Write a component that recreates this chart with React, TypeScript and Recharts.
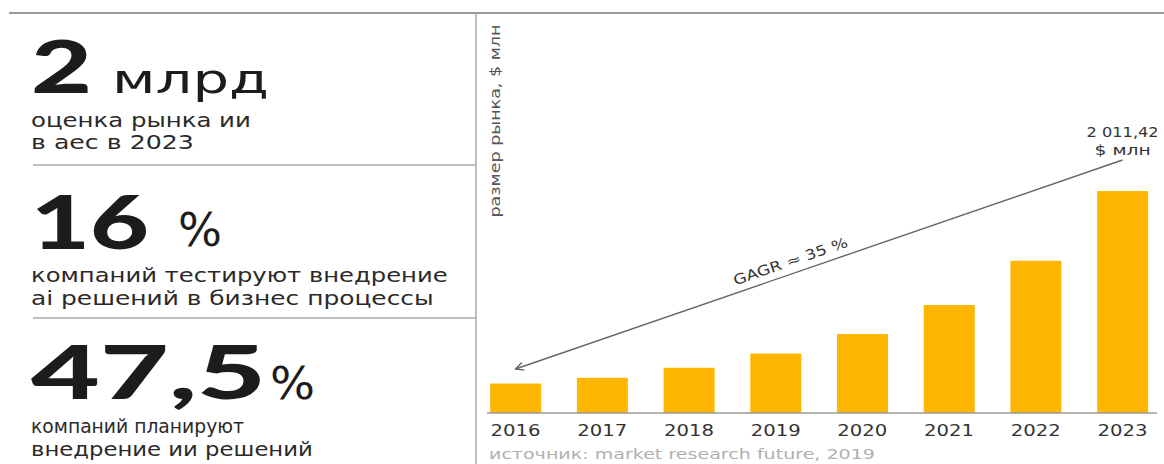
import { useLayoutEffect, useRef, useState } from 'react';
import { BarChart, Bar, XAxis, YAxis, ReferenceLine } from 'recharts';

const years = [2016, 2017, 2018, 2019, 2020, 2021, 2022, 2023];
const marketSize = [267, 319, 410, 539, 716, 979, 1380, 2011.42]; // $ млн
const lastLabel = ['2 011,42', '$ млн'];
const cagrText = 'GAGR ≈ 35 %';
const trendFrom = { year: 2016, value: 399 };
const trendTo = { year: 2023, value: 2293 };

const yLabel = 'размер рынка, $ млн';
const sourceText = 'источник: market research future, 2019';

const data = years.map((year, i) => ({ year, value: marketSize[i] }));

const FONT = '"DejaVu Sans", sans-serif';
const BIG_FONT = 'Lato, "DejaVu Sans", sans-serif';
const BAR = '#FEB600';
const INK = '#1c1c1c';

// text stretched horizontally to a given width (the original uses an extended typeface)
function FitText({ x, y, width, children, ...rest }: any) {
  const ref = useRef<SVGTextElement>(null);
  const [sx, setSx] = useState(1);
  useLayoutEffect(() => {
    if (ref.current) {
      const w = ref.current.getComputedTextLength();
      if (w > 0) setSx(width / w);
    }
  }, [width]);
  return (
    <text ref={ref} transform={`translate(${x},${y}) scale(${sx},1)`} {...rest}>
      {children}
    </text>
  );
}

function YearTick(props: any) {
  const { x, y, payload } = props;
  return (
    <text x={x} y={y + 23} textAnchor="middle" fontSize={16} fill="#333" fontFamily={FONT} textLength={50} lengthAdjust="spacingAndGlyphs">
      {String(payload.value)}
    </text>
  );
}

function BarShape(props: any) {
  const { x, y, width, height, index } = props;
  const isLast = index === data.length - 1;
  const cx = x + width / 2;
  return (
    <g>
      <rect x={x} y={y} width={width} height={height} fill={BAR} />
      {isLast && (
        <>
          <text x={cx} y={y - 54} textAnchor="middle" fontSize={14} fill="#333" fontFamily={FONT} textLength={72} lengthAdjust="spacingAndGlyphs">
            {lastLabel[0]}
          </text>
          <text x={cx} y={y - 36} textAnchor="middle" fontSize={14} fill="#333" fontFamily={FONT} textLength={56} lengthAdjust="spacingAndGlyphs">
            {lastLabel[1]}
          </text>
        </>
      )}
    </g>
  );
}

function TrendArrow(props: any) {
  const { x1, y1, x2, y2 } = props;
  if ([x1, y1, x2, y2].some((v) => typeof v !== 'number' || isNaN(v))) return <g />;
  const dx = x2 - x1;
  const dy = y2 - y1;
  const len = Math.sqrt(dx * dx + dy * dy);
  const ux = dx / len;
  const uy = dy / len;
  const ang = (Math.atan2(dy, dx) * 180) / Math.PI;
  const head = 9;
  const a = (26 * Math.PI) / 180;
  const hx1 = x1 + head * (ux * Math.cos(a) - uy * Math.sin(a));
  const hy1 = y1 + head * (ux * Math.sin(a) + uy * Math.cos(a));
  const hx2 = x1 + head * (ux * Math.cos(-a) - uy * Math.sin(-a));
  const hy2 = y1 + head * (ux * Math.sin(-a) + uy * Math.cos(-a));
  const mx = (x1 + x2) / 2;
  const my = (y1 + y2) / 2;
  return (
    <g>
      <line x1={x1} y1={y1} x2={x2} y2={y2} stroke="#666" strokeWidth={1.4} />
      <polyline points={`${hx1},${hy1} ${x1},${y1} ${hx2},${hy2}`} fill="none" stroke="#666" strokeWidth={1.4} />
      <g transform={`translate(${mx},${my}) rotate(${ang})`}>
        <text x={-26} y={-7.5} textAnchor="middle" fontSize={14} fill="#333" fontFamily={FONT} textLength={120} lengthAdjust="spacingAndGlyphs">
          {cagrText}
        </text>
      </g>
    </g>
  );
}

export default function App() {
  const caption = { fontSize: 19, fill: '#2a2a2a', fontFamily: FONT };
  const big = { fontSize: 74, fontWeight: 900, fill: INK, fontFamily: BIG_FONT };
  const unit = { fill: INK, fontFamily: FONT };
  return (
    <div style={{ position: 'absolute', left: 0, top: 0, width: 1164, height: 464, overflow: 'hidden', background: '#fff' }}>
      <BarChart width={1164} height={464} data={data} margin={{ top: 82, right: 7, bottom: 0, left: 487 }}>
        <XAxis
          dataKey="year"
          type="number"
          domain={[2015.671, 2023.398]}
          allowDataOverflow
          ticks={years}
          interval={0}
          height={51}
          tickSize={0}
          tickMargin={0}
          tickLine={false}
          axisLine={{ stroke: '#9a9a9a', strokeWidth: 1.5 }}
          tick={<YearTick />}
        />
        <YAxis hide domain={[0, 3000]} />
        <Bar dataKey="value" barSize={51} isAnimationActive={false} shape={<BarShape />} />
        <ReferenceLine
          segment={[
            { x: trendFrom.year, y: trendFrom.value },
            { x: trendTo.year, y: trendTo.value },
          ]}
          ifOverflow="visible"
          shape={(p: any) => <TrendArrow {...p} />}
        />
      </BarChart>

      <svg width={1164} height={464} style={{ position: 'absolute', left: 0, top: 0, pointerEvents: 'none' }}>
        <line x1={9} y1={13} x2={1164} y2={13} stroke="#9a9a9a" strokeWidth={2} />
        <line x1={476} y1={13} x2={476} y2={464} stroke="#a8a8a8" strokeWidth={1.5} />
        <line x1={33} y1={165} x2={476} y2={165} stroke="#a8a8a8" strokeWidth={1.5} />
        <line x1={33} y1={318} x2={476} y2={318} stroke="#a8a8a8" strokeWidth={1.5} />

        <FitText x={31} y={93} width={61} {...big} fontSize={73}>2</FitText>
        <FitText x={112} y={93} width={157} {...unit} fontSize={40}>млрд</FitText>
        <FitText x={31} y={127} width={220} {...caption}>оценка рынка ии</FitText>
        <FitText x={31} y={149} width={163} {...caption}>в аес в 2023</FitText>

        <FitText x={31} y={249} width={118} {...big}>16</FitText>
        <FitText x={178} y={246} width={44} {...unit} fontSize={46}>%</FitText>
        <FitText x={31} y={282} width={417} {...caption}>компаний тестируют внедрение</FitText>
        <FitText x={31} y={305} width={403} {...caption}>ai решений в бизнес процессы</FitText>

        <FitText x={31} y={399} width={235} {...big}>47,5</FitText>
        <FitText x={270} y={399} width={45} {...unit} fontSize={45}>%</FitText>
        <FitText x={31} y={433} width={213} {...caption}>компаний планируют</FitText>
        <FitText x={31} y={456} width={282} {...caption}>внедрение ии решений</FitText>

        <text transform="translate(500,121) rotate(-90)" textAnchor="middle" fontSize={14} fill="#555" fontFamily={FONT} textLength={193} lengthAdjust="spacingAndGlyphs">
          {yLabel}
        </text>
        <text x={489} y={459} fontSize={14} fill="#b0b0b0" fontFamily={FONT} textLength={386} lengthAdjust="spacingAndGlyphs">
          {sourceText}
        </text>
      </svg>
    </div>
  );
}
